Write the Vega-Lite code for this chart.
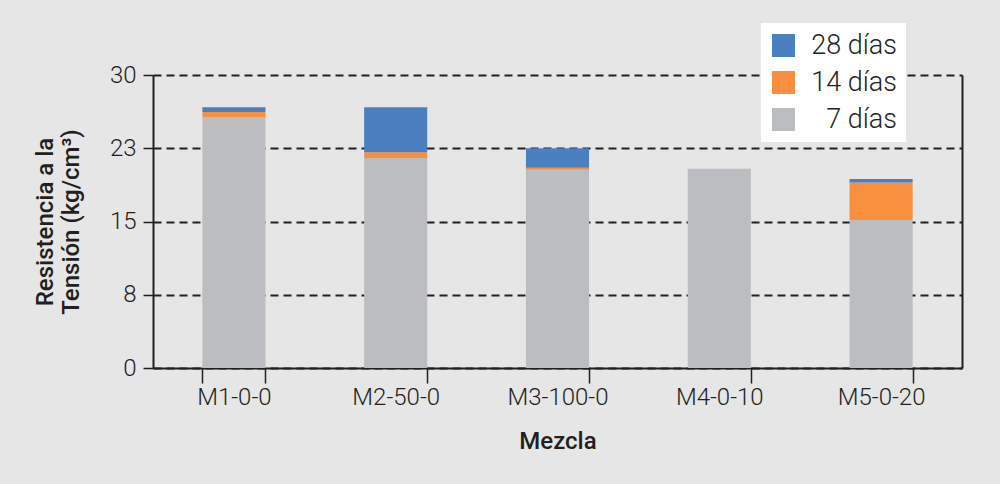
{
  "$schema": "https://vega.github.io/schema/vega-lite/v6.json",
  "width": 809,
  "height": 293,
  "autosize": {"type": "none"},
  "padding": {"left": 153, "top": 75, "right": 38, "bottom": 116},
  "background": "#e6e6e6",
  "data": {
    "values": [
      {"mezcla": "M1-0-0", "edad": "7 días", "orden": 1, "resistencia": 25.7},
      {"mezcla": "M1-0-0", "edad": "14 días", "orden": 2, "resistencia": 0.5},
      {"mezcla": "M1-0-0", "edad": "28 días", "orden": 3, "resistencia": 0.5},
      {"mezcla": "M2-50-0", "edad": "7 días", "orden": 1, "resistencia": 21.5},
      {"mezcla": "M2-50-0", "edad": "14 días", "orden": 2, "resistencia": 0.6},
      {"mezcla": "M2-50-0", "edad": "28 días", "orden": 3, "resistencia": 4.6},
      {"mezcla": "M3-100-0", "edad": "7 días", "orden": 1, "resistencia": 20.3},
      {"mezcla": "M3-100-0", "edad": "14 días", "orden": 2, "resistencia": 0.2},
      {"mezcla": "M3-100-0", "edad": "28 días", "orden": 3, "resistencia": 2.0},
      {"mezcla": "M4-0-10", "edad": "7 días", "orden": 1, "resistencia": 20.4},
      {"mezcla": "M4-0-10", "edad": "14 días", "orden": 2, "resistencia": 0},
      {"mezcla": "M4-0-10", "edad": "28 días", "orden": 3, "resistencia": 0},
      {"mezcla": "M5-0-20", "edad": "7 días", "orden": 1, "resistencia": 15.15},
      {"mezcla": "M5-0-20", "edad": "14 días", "orden": 2, "resistencia": 3.85},
      {"mezcla": "M5-0-20", "edad": "28 días", "orden": 3, "resistencia": 0.35}
    ]
  },
  "config": {
    "font": "Roboto",
    "view": {"stroke": null},
    "axis": {
      "labelFont": "Roboto",
      "labelFontWeight": 300,
      "labelColor": "#231f20",
      "titleFont": "Roboto",
      "titleFontWeight": 500,
      "titleColor": "#231f20",
      "domainColor": "#231f20",
      "tickColor": "#231f20"
    }
  },
  "encoding": {
    "x": {
      "field": "mezcla",
      "type": "nominal",
      "sort": null,
      "scale": {"paddingInner": 0.61, "paddingOuter": 0.305},
      "axis": {
        "title": "Mezcla",
        "titleFontSize": 24,
        "titlePadding": 20,
        "labelFontSize": 24,
        "labelAngle": 0,
        "labelPadding": 2,
        "tickBand": "extent",
        "tickSize": 15,
        "tickWidth": 1.5,
        "domainWidth": 2,
        "grid": false
      }
    }
  },
  "layer": [
    {
      "mark": {"type": "bar"},
      "encoding": {
        "y": {
          "field": "resistencia",
          "type": "quantitative",
          "stack": "zero",
          "scale": {"domain": [0, 30], "nice": false},
          "axis": {
            "title": ["Resistencia a la", "Tensión (kg/cm³)"],
            "titleFontSize": 24,
            "titleLineHeight": 26,
            "titlePadding": 26,
            "values": [0, 7.5, 15, 22.5, 30],
            "format": ".0f",
            "labelFontSize": 24,
            "labelPadding": 7,
            "tickSize": 10,
            "tickWidth": 1.5,
            "domainWidth": 2,
            "grid": true,
            "gridColor": "#231f20",
            "gridWidth": 2,
            "gridDash": [8, 5],
            "gridOpacity": 1
          }
        },
        "order": {"field": "orden", "type": "quantitative"},
        "color": {
          "field": "edad",
          "type": "nominal",
          "scale": {
            "domain": ["28 días", "14 días", "7 días"],
            "range": ["#4c7fc0", "#f78f3f", "#bcbdc0"]
          },
          "legend": {
            "title": null,
            "orient": "none",
            "legendX": 608,
            "legendY": -52,
            "fillColor": "white",
            "padding": 9,
            "symbolType": "square",
            "symbolSize": 529,
            "symbolStrokeWidth": 0,
            "symbolOpacity": 1,
            "labelFont": "Roboto",
            "labelFontWeight": 300,
            "labelFontSize": 27,
            "labelColor": "#231f20",
            "labelAlign": "right",
            "labelOffset": 100,
            "rowPadding": 9
          }
        }
      }
    },
    {
      "mark": {"type": "bar", "opacity": 0},
      "encoding": {
        "y": {
          "field": "resistencia",
          "type": "quantitative",
          "stack": "zero",
          "scale": {"domain": [0, 30], "nice": false},
          "axis": {
            "orient": "right",
            "title": null,
            "labels": false,
            "ticks": false,
            "grid": false,
            "domainWidth": 2
          }
        }
      }
    }
  ],
  "resolve": {"axis": {"y": "independent"}}
}
